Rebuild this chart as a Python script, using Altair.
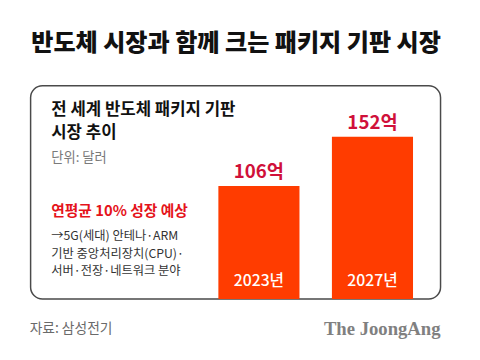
import altair as alt
import pandas as pd

years = ["2023년", "2027년"]
values = [106, 152]
value_labels = ["106억", "152억"]

title = "반도체 시장과 함께 크는 패키지 기판 시장"
subtitle_lines = ["전 세계 반도체 패키지 기판", "시장 추이"]
unit_text = "단위: 달러"
highlight = "연평균 10% 성장 예상"
body_lines = ["→5G(세대) 안테나·ARM", "기반 중앙처리장치(CPU)·", "서버·전장·네트워크 분야"]
source = "자료: 삼성전기"
logo = "The JoongAng"

FONT = "Noto Sans CJK KR"
df = pd.DataFrame({"year": years, "value": values, "label": value_labels})

W, H = 472, 293
x_scale = alt.Scale(domain=years, range=[214, 412], paddingInner=0.2857, paddingOuter=0)
y_scale = alt.Scale(domain=[0, 270])

one = pd.DataFrame({"a": [0]})

box = alt.Chart(one).mark_rect(
    fill="white", stroke="#4a4a4a", strokeWidth=1.5, cornerRadius=12
).encode(x=alt.value(23), x2=alt.value(440), y=alt.value(76), y2=alt.value(293))

bars = alt.Chart(df).mark_bar(color="#FF3C00").encode(
    x=alt.X("year:N", scale=x_scale, axis=None),
    y=alt.Y("value:Q", scale=y_scale, axis=None),
)

vlabels = alt.Chart(df).mark_text(
    font=FONT, fontSize=19, fontWeight=700, color="#D0103A", baseline="bottom", dy=-4
).encode(x=alt.X("year:N", scale=x_scale), y=alt.Y("value:Q", scale=y_scale), text="label:N")

ylabels = alt.Chart(df).mark_text(
    font=FONT, fontSize=16, fontWeight=500, color="white", baseline="middle"
).encode(x=alt.X("year:N", scale=x_scale), y=alt.value(275), text="year:N")


def txt(s, x, y, size, color, weight=400, align="left", font=FONT):
    return alt.Chart(pd.DataFrame({"t": [s]})).mark_text(
        font=font, fontSize=size, fontWeight=weight, color=color,
        align=align, baseline="middle"
    ).encode(x=alt.value(x), y=alt.value(y), text="t:N")


layers = [box, bars, vlabels, ylabels,
          txt(title, 232, 34, 24.5, "#111111", 900, "center"),
          txt(subtitle_lines[0], 44, 101, 17, "#111111", 700),
          txt(subtitle_lines[1], 44, 124, 17, "#111111", 700),
          txt(unit_text, 44, 150, 13.5, "#7a7a7a", 400),
          txt(highlight, 44, 204, 15, "#E5131B", 700),
          txt(body_lines[0], 44, 229, 12.5, "#333333", 400),
          txt(body_lines[1], 44, 247, 12.5, "#333333", 400),
          txt(body_lines[2], 44, 265, 12.5, "#333333", 400),
          txt(source, 22, 324, 14, "#6a6a6a", 400),
          txt(logo, 440, 324, 19, "#808080", 700, "right", "Liberation Serif"),
          ]

chart = alt.layer(*layers).properties(
    width=W, height=H,
    padding={"left": 0, "top": 0, "right": 0, "bottom": 59},
    autosize=alt.AutoSizeParams(type="none"),
    background="white",
).configure_view(stroke=None)

chart.save("out.html", embed_options={"renderer": "svg", "actions": False})
